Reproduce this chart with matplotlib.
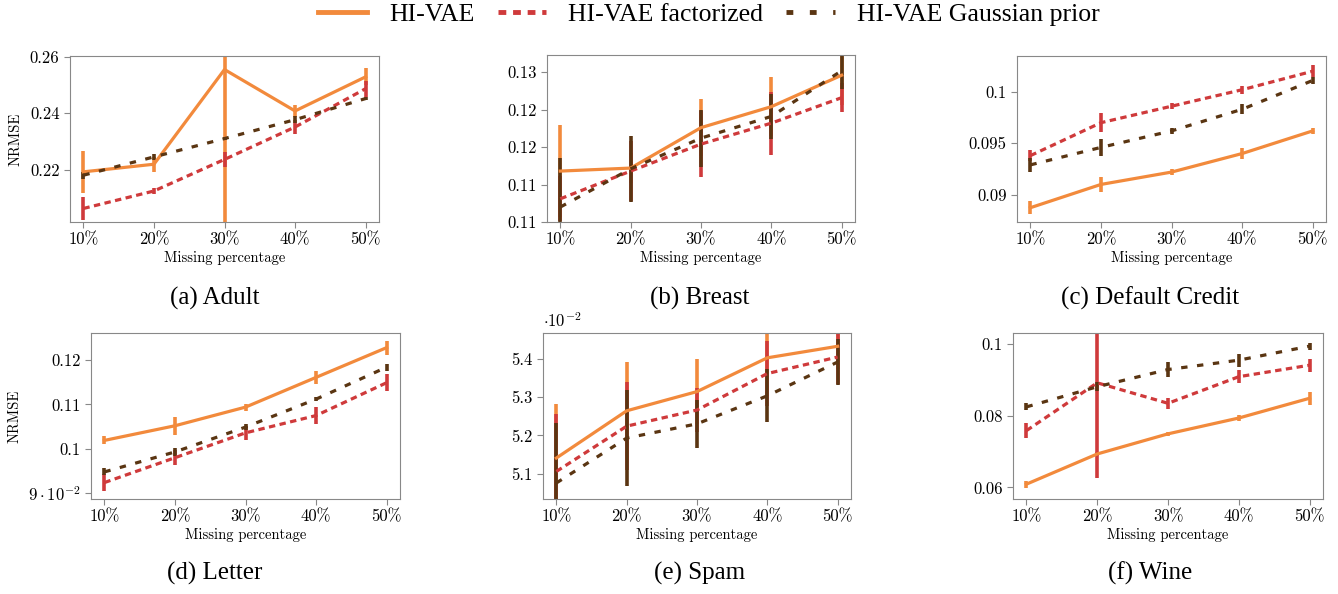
import numpy as np
import matplotlib.pyplot as plt
from matplotlib.lines import Line2D

plt.rcParams['mathtext.fontset'] = 'cm'

# missing percentage
miss = [10, 20, 30, 40, 50]
miss_labels = ['10%', '20%', '30%', '40%', '50%']

# Adult
adult_hivae = [0.2192, 0.2219, 0.2555, 0.2408, 0.2529]
adult_hivae_err = [0.0075, 0.0027, 0.06, 0.002, 0.003]
adult_fact = [0.2062, 0.2124, 0.2236, 0.2351, 0.2487]
adult_fact_err = [0.004, 0.001, 0.0027, 0.0025, 0.0028]
adult_gauss = [0.2180, 0.2245, 0.2310, 0.2377, 0.2452]
adult_gauss_err = [0.0013, 0.001, 0.0004, 0.0012, 0.0005]

# Breast
breast_hivae = [0.1168, 0.1172, 0.1226, 0.1254, 0.1296]
breast_hivae_err = [0.0061, 0.002, 0.0038, 0.0039, 0.004]
breast_fact = [0.1131, 0.1168, 0.1204, 0.1232, 0.1266]
breast_fact_err = [0.003, 0.004, 0.0044, 0.0042, 0.0019]
breast_gauss = [0.1120, 0.1171, 0.1212, 0.1241, 0.1302]
breast_gauss_err = [0.0065, 0.0044, 0.0038, 0.003, 0.0025]

# Default Credit
credit_hivae = [0.08874, 0.0910, 0.0922, 0.0940, 0.0962]
credit_hivae_err = [0.00065, 0.0007, 0.0003, 0.0005, 0.0003]
credit_fact = [0.0938, 0.0970, 0.0986, 0.1002, 0.1020]
credit_fact_err = [0.0005, 0.0009, 0.0003, 0.0004, 0.0006]
credit_gauss = [0.0929, 0.0946, 0.0962, 0.0983, 0.1011]
credit_gauss_err = [0.0007, 0.0008, 0.0003, 0.0005, 0.0003]

# Letter
letter_hivae = [0.1019, 0.1052, 0.1094, 0.1161, 0.1228]
letter_hivae_err = [0.0009, 0.002, 0.0008, 0.0015, 0.0016]
letter_fact = [0.0924, 0.0980, 0.1036, 0.1075, 0.1149]
letter_fact_err = [0.0019, 0.0017, 0.0015, 0.0019, 0.0019]
letter_gauss = [0.0948, 0.0993, 0.1049, 0.1112, 0.1184]
letter_gauss_err = [0.0008, 0.0008, 0.0006, 0.0004, 0.0008]

# Spam (x 10^-2)
spam_hivae = [5.141, 5.264, 5.314, 5.402, 5.432]
spam_hivae_err = [0.14, 0.127, 0.084, 0.1, 0.06]
spam_fact = [5.106, 5.224, 5.266, 5.361, 5.404]
spam_fact_err = [0.15, 0.115, 0.058, 0.084, 0.07]
spam_gauss = [5.076, 5.193, 5.230, 5.303, 5.391]
spam_gauss_err = [0.155, 0.124, 0.062, 0.069, 0.06]

# Wine
wine_hivae = [0.0609, 0.0693, 0.0749, 0.0793, 0.0848]
wine_hivae_err = [0.001, 0.0005, 0.0006, 0.0009, 0.0018]
wine_fact = [0.0758, 0.0891, 0.0834, 0.0908, 0.0940]
wine_fact_err = [0.002, 0.0265, 0.0016, 0.0018, 0.0018]
wine_gauss = [0.0824, 0.0880, 0.0928, 0.0954, 0.0993]
wine_gauss_err = [0.001, 0.0013, 0.002, 0.0018, 0.001]

orange = '#f28a3c'
red = '#cf3a3b'
brown = '#5a3512'

W, H = 1338, 594
fig = plt.figure(figsize=(W / 100, H / 100), dpi=100)


def rect(x0, x1, y0, y1):
    return [x0 / W, 1 - y1 / H, (x1 - x0) / W, (y1 - y0) / H]


# caption positions (pixels): column centres and row baselines
cap_x = [215, 700, 1150]
cap_y = [298, 573]

panels = [
    ('(a) Adult', rect(70, 379, 56, 222), adult_hivae, adult_hivae_err, adult_fact, adult_fact_err,
     adult_gauss, adult_gauss_err, (0.2014, 0.2603), [0.22, 0.24, 0.26], ['0.22', '0.24', '0.26'], True),
    ('(b) Breast', rect(547, 855, 55, 222), breast_hivae, breast_hivae_err, breast_fact, breast_fact_err,
     breast_gauss, breast_gauss_err, (0.11, 0.1323), [0.11, 0.115, 0.12, 0.125, 0.13],
     ['0.11', '0.11', '0.12', '0.12', '0.13'], False),
    ('(c) Default Credit', rect(1017, 1326, 56, 222), credit_hivae, credit_hivae_err, credit_fact, credit_fact_err,
     credit_gauss, credit_gauss_err, (0.08735, 0.10348), [0.09, 0.095, 0.1], ['0.09', '0.095', '0.1'], False),
    ('(d) Letter', rect(91, 400, 333, 499), letter_hivae, letter_hivae_err, letter_fact, letter_fact_err,
     letter_gauss, letter_gauss_err, (0.0887, 0.1261), [0.09, 0.1, 0.11, 0.12],
     [r'$9\cdot10^{-2}$', '0.1', '0.11', '0.12'], True),
    ('(e) Spam', rect(543, 851, 333, 499), spam_hivae, spam_hivae_err, spam_fact, spam_fact_err,
     spam_gauss, spam_gauss_err, (5.0343, 5.4666), [5.1, 5.2, 5.3, 5.4], ['5.1', '5.2', '5.3', '5.4'], False),
    ('(f) Wine', rect(1013, 1323, 333, 499), wine_hivae, wine_hivae_err, wine_fact, wine_fact_err,
     wine_gauss, wine_gauss_err, (0.05677, 0.10296), [0.06, 0.08, 0.1], ['0.06', '0.08', '0.1'], False),
]

cm = 'cmr10'
for i, (cap, r, hv, hve, fa, fae, ga, gae, ylim, yt, ytl, ylab) in enumerate(panels):
    ax = fig.add_axes(r)
    ax.errorbar(miss, hv, yerr=hve, color=orange, lw=2.3, elinewidth=2.6, capsize=0)
    ax.errorbar(miss, fa, yerr=fae, color=red, lw=2.3, elinewidth=2.6, capsize=0,
                dashes=(2, 1.4))
    ax.errorbar(miss, ga, yerr=gae, color=brown, lw=2.3, elinewidth=2.6, capsize=0,
                dashes=(2, 3))
    ax.set_xlim(8.1, 51.9)
    ax.set_ylim(*ylim)
    ax.set_xticks(miss)
    ax.set_xticklabels(miss_labels, fontfamily=cm, fontsize=12)
    ax.set_yticks(yt)
    ax.set_yticklabels(ytl, fontfamily=cm, fontsize=12)
    ax.tick_params(direction='out', length=4.5, width=0.8, color='#888888', pad=3)
    for s in ax.spines.values():
        s.set_color('#888888')
    ax.set_xlabel('Missing percentage', fontfamily=cm, fontsize=10.5, labelpad=2)
    if ylab:
        ax.set_ylabel('NRMSE', fontfamily=cm, fontsize=10.5, labelpad=5)
    if cap == '(e) Spam':
        ax.text(0, 1.01, r'$\cdot10^{-2}$', transform=ax.transAxes, fontsize=12,
                ha='left', va='bottom')
    fig.text(cap_x[i % 3] / W, 1 - cap_y[i // 3] / H, cap, fontfamily='Liberation Serif',
             fontsize=18, ha='center', va='center')

handles = [
    Line2D([], [], color=orange, lw=3.5),
    Line2D([], [], color=red, lw=3.5, dashes=(1.6, 1.4)),
    Line2D([], [], color=brown, lw=3.5, dashes=(1.4, 3.4)),
]
fig.legend(handles, ['HI-VAE', 'HI-VAE factorized', 'HI-VAE Gaussian prior'],
           loc='center', bbox_to_anchor=(0.530, 1 - 15 / H), ncol=3, frameon=False,
           prop={'family': 'Liberation Serif', 'size': 18.5}, handlelength=1.9,
           columnspacing=0.9, handletextpad=0.85)

fig.savefig('out.png', dpi=100)
